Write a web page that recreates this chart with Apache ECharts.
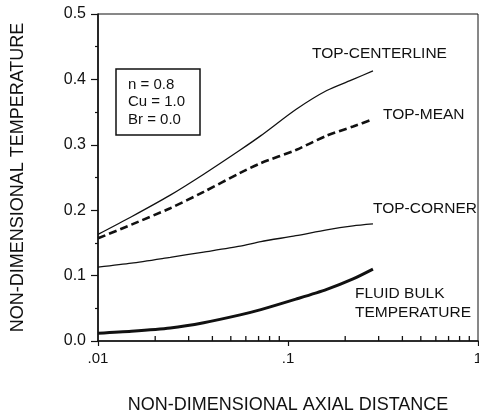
<!DOCTYPE html>
<html>
<head>
<meta charset="utf-8">
<script src="https://cdn.jsdelivr.net/npm/echarts@6/dist/echarts.min.js"></script>
<style>
  html, body { margin: 0; padding: 0; background: #fff; }
  #chart { width: 479px; height: 413px; }
</style>
</head>
<body>
<div id="chart"></div>
<script>
// Axial positions (log scale) shared by all curves
const axialDistance = [0.01, 0.015, 0.024, 0.036, 0.056, 0.072, 0.11, 0.16, 0.22, 0.28];

// Non-dimensional temperature along each line
const topCenterline = [0.163, 0.190, 0.223, 0.255, 0.292, 0.314, 0.354, 0.383, 0.400, 0.413];
const topMean       = [0.157, 0.178, 0.203, 0.228, 0.257, 0.272, 0.292, 0.314, 0.328, 0.339];
const topCorner     = [0.113, 0.119, 0.128, 0.136, 0.145, 0.152, 0.161, 0.170, 0.176, 0.179];
const fluidBulk     = [0.012, 0.015, 0.020, 0.028, 0.040, 0.048, 0.064, 0.079, 0.095, 0.110];

// Tick labels and minor decade ticks
const xTickLabels = { '-2': '.01', '-1': '.1', '0': '1' };
const xMinorTicks = [0.02, 0.03, 0.04, 0.05, 0.06, 0.07, 0.08, 0.09,
                     0.2, 0.3, 0.4, 0.5, 0.6, 0.7, 0.8, 0.9];

const FONT = '"Liberation Sans", Arial, Helvetica, sans-serif';
const INK = '#111';

function pairs(ys) {
  return axialDistance.map((x, i) => [x, ys[i]]);
}

const chart = echarts.init(document.getElementById('chart'), null, { renderer: 'canvas' });

chart.setOption({
  backgroundColor: '#fff',
  animation: false,
  grid: {
    left: 98, right: 1, top: 14, bottom: 72,
    outerBoundsMode: 'none',
    show: true, borderColor: INK, borderWidth: 1, backgroundColor: 'transparent'
  },
  xAxis: {
    type: 'log', logBase: 10, min: 0.01, max: 1,
    position: 'bottom',
    name: 'NON-DIMENSIONAL AXIAL DISTANCE',
    nameLocation: 'middle', nameGap: 55,
    nameTextStyle: { fontFamily: FONT, fontSize: 18, color: INK },
    axisLine: { show: true, onZero: false, lineStyle: { color: INK, width: 1.6 } },
    axisTick: { show: true, inside: false, length: 5, lineStyle: { color: INK, width: 1.2 } },
    axisLabel: {
      fontFamily: FONT, fontSize: 15, color: INK, margin: 10,
      formatter: v => xTickLabels[String(Math.round(Math.log10(v)))] || ''
    },
    splitLine: { show: false }
  },
  yAxis: {
    type: 'value', min: 0, max: 0.5, interval: 0.1,
    position: 'left',
    name: 'NON-DIMENSIONAL TEMPERATURE',
    nameLocation: 'middle', nameGap: 71,
    nameTextStyle: { fontFamily: FONT, fontSize: 18, color: INK },
    axisLine: { show: true, onZero: false, lineStyle: { color: INK, width: 1.6 } },
    axisTick: { show: true, inside: false, length: 7, lineStyle: { color: INK, width: 1.2 } },
    minorTick: { show: true, splitNumber: 2, length: 3, lineStyle: { color: INK, width: 1.2 } },
    axisLabel: {
      fontFamily: FONT, fontSize: 16, color: INK, margin: 12,
      formatter: v => v.toFixed(1)
    },
    splitLine: { show: false }
  },
  series: [
    {
      name: 'TOP-CENTERLINE', type: 'line', smooth: 0.25, symbol: 'none',
      data: pairs(topCenterline),
      lineStyle: { color: INK, width: 1.3 }
    },
    {
      name: 'TOP-MEAN', type: 'line', smooth: 0.25, symbol: 'none',
      data: pairs(topMean),
      lineStyle: { color: INK, width: 2.6, type: [8, 4] }
    },
    {
      name: 'TOP-CORNER', type: 'line', smooth: 0.25, symbol: 'none',
      data: pairs(topCorner),
      lineStyle: { color: INK, width: 1.3 }
    },
    {
      name: 'FLUID BULK TEMPERATURE', type: 'line', smooth: 0.25, symbol: 'none',
      data: pairs(fluidBulk),
      lineStyle: { color: INK, width: 3 }
    },
    {
      // minor ticks for each decade, pointing up from the bottom axis
      name: 'minor ticks', type: 'custom', silent: true, clip: false,
      data: xMinorTicks.map(v => [v, 0]),
      renderItem: (params, api) => {
        const p = api.coord([api.value(0), api.value(1)]);
        return {
          type: 'line',
          shape: { x1: p[0], y1: p[1], x2: p[0], y2: p[1] - 5 },
          style: { stroke: INK, lineWidth: 1.3 }
        };
      }
    }
  ],
  graphic: [
    // curve annotations
    { type: 'text', x: 312, y: 54, style: { text: 'TOP-CENTERLINE', font: '15.5px ' + FONT, fill: INK, textAlign: 'left', textVerticalAlign: 'middle' } },
    { type: 'text', x: 383, y: 115, style: { text: 'TOP-MEAN', font: '15.5px ' + FONT, fill: INK, textAlign: 'left', textVerticalAlign: 'middle' } },
    { type: 'text', x: 373, y: 209, style: { text: 'TOP-CORNER', font: '15.5px ' + FONT, fill: INK, textAlign: 'left', textVerticalAlign: 'middle' } },
    { type: 'text', x: 355, y: 294, style: { text: 'FLUID BULK', font: '15.5px ' + FONT, fill: INK, textAlign: 'left', textVerticalAlign: 'middle' } },
    { type: 'text', x: 355, y: 312.5, style: { text: 'TEMPERATURE', font: '15.5px ' + FONT, fill: INK, textAlign: 'left', textVerticalAlign: 'middle' } },
    // parameter box
    { type: 'rect', shape: { x: 116, y: 69, width: 84, height: 66 }, style: { fill: '#fff', stroke: INK, lineWidth: 1.5 } },
    { type: 'text', x: 128, y: 85, style: { text: 'n = 0.8', font: '15px ' + FONT, fill: INK, textAlign: 'left', textVerticalAlign: 'middle' } },
    { type: 'text', x: 128, y: 101.5, style: { text: 'Cu = 1.0', font: '15px ' + FONT, fill: INK, textAlign: 'left', textVerticalAlign: 'middle' } },
    { type: 'text', x: 128, y: 120, style: { text: 'Br = 0.0', font: '15px ' + FONT, fill: INK, textAlign: 'left', textVerticalAlign: 'middle' } }
  ]
});
</script>
</body>
</html>
